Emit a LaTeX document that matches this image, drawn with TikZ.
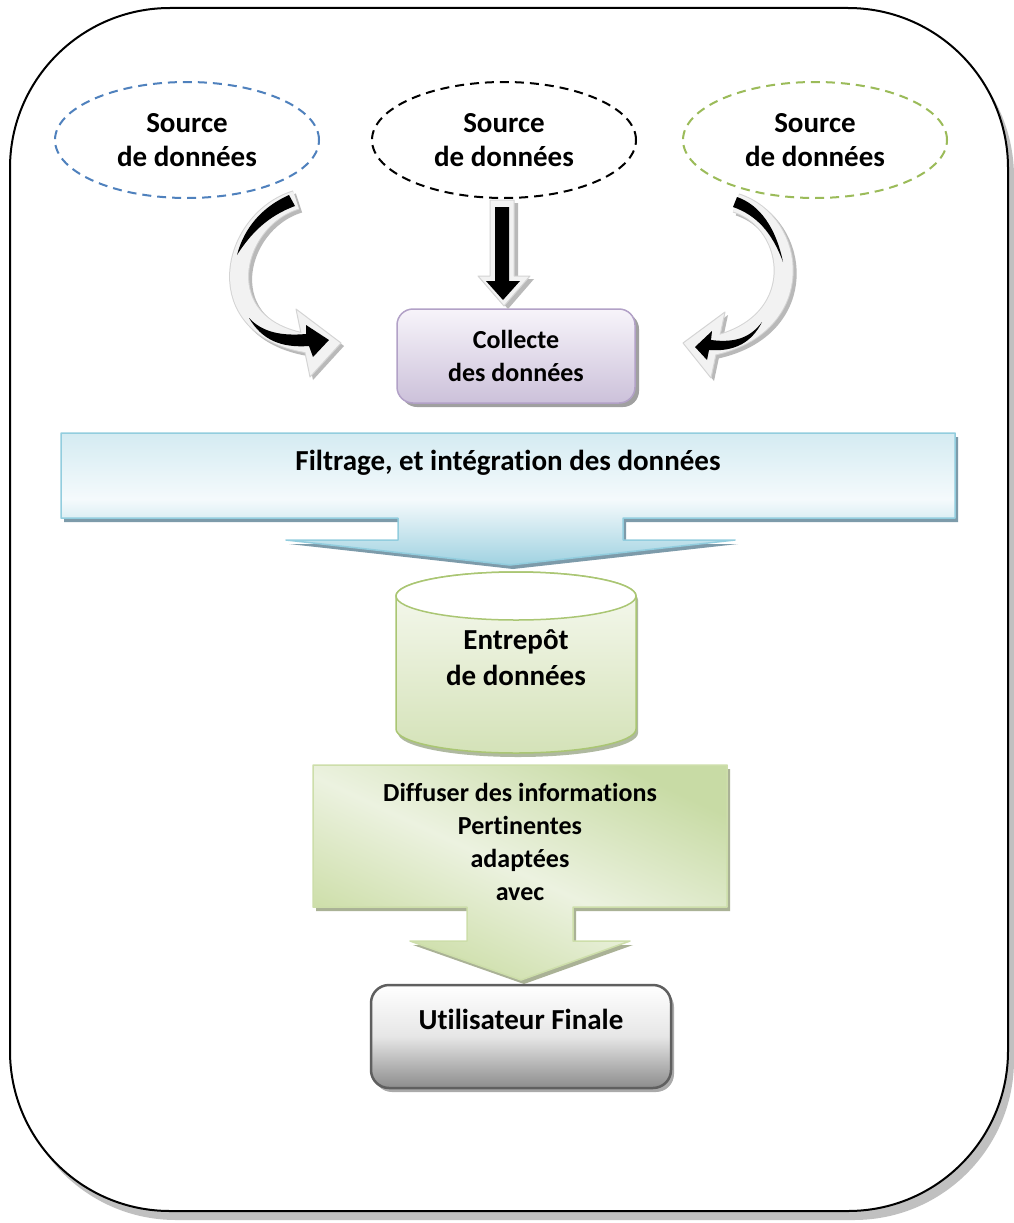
\documentclass[tikz,border=0pt]{standalone}
\usepackage{fontspec}
\setmainfont{Carlito}[Ligatures={NoCommon,NoRequired,NoContextual}, Contextuals={NoAlternate}]
\usetikzlibrary{shapes.geometric,shadows}

\definecolor{srcblue}{RGB}{79,129,189}
\definecolor{srcgreen}{RGB}{155,187,89}
\definecolor{bandfill}{RGB}{242,242,242}
\definecolor{bandedge}{RGB}{212,212,212}
\definecolor{bandshadow}{RGB}{185,185,185}
\definecolor{colTop}{RGB}{247,244,250}
\definecolor{colBot}{RGB}{204,193,218}
\definecolor{colEdge}{RGB}{178,161,199}
\definecolor{colShadow}{RGB}{160,160,160}
\definecolor{filTop}{RGB}{212,235,242}
\definecolor{filMid}{RGB}{245,250,252}
\definecolor{filBot}{RGB}{160,210,225}
\definecolor{filEdge}{RGB}{146,205,222}
\definecolor{filShadow}{RGB}{125,155,170}
\definecolor{cylTop}{RGB}{248,250,242}
\definecolor{cylBot}{RGB}{212,226,184}
\definecolor{cylEdge}{RGB}{170,198,115}
\definecolor{cylShadow}{RGB}{175,185,160}
\definecolor{difTop}{RGB}{200,219,165}
\definecolor{difMid}{RGB}{236,242,224}
\definecolor{difBot}{RGB}{200,219,160}
\definecolor{difEdge}{RGB}{205,222,170}
\definecolor{difShadow}{RGB}{170,178,150}
\definecolor{usrMid}{RGB}{230,230,230}
\definecolor{usrBot}{RGB}{140,140,140}
\definecolor{usrEdge}{RGB}{95,95,95}
\definecolor{usrShadow}{RGB}{170,170,170}
\definecolor{frameShadow}{RGB}{192,192,192}

\tikzset{
  lbl/.style={font=\fontsize{29}{34}\selectfont\bfseries, align=center, inner sep=0pt},
  lblsm/.style={font=\fontsize{26}{33}\selectfont\bfseries, align=center, inner sep=0pt},
  srcell/.style={ellipse, draw=#1, dash pattern=on 9pt off 6pt, line width=2pt,
    minimum width=264pt, minimum height=116pt, inner sep=0pt, lbl},
  band/.style={line width=20pt, bandedge},
  bandin/.style={line width=18pt, bandfill},
}

\begin{document}
\begin{tikzpicture}[x=1pt, y=-1pt, line join=round]
\useasboundingbox (0,0) rectangle (1014,1223);

% outer frame with its shadow
\fill[frameShadow, rounded corners=160pt] (16,17) rectangle (1014,1220);
\draw[black, line width=2pt, fill=white, rounded corners=160pt] (10,8) rectangle (1008,1211);

% data sources
\node[srcell=srcblue] (s1) at (187,140) {Source\\de données};
\node[srcell=black] (s2) at (504,140) {Source\\de données};
\node[srcell=srcgreen] (s3) at (815,140) {Source\\de données};

% collection box
\node[draw=colEdge, line width=1.5pt, rounded corners=16pt,
      minimum width=238pt, minimum height=94pt, inner sep=0pt,
      top color=colTop, bottom color=colBot,
      drop shadow={shadow xshift=4pt, shadow yshift=-4pt, fill=colShadow, opacity=1},
      lblsm] (col) at (516,356) {Collecte\\des données};

% ---- left curved arrow
\begin{scope}[shift={(3,3)}]
  \draw[line width=20pt, bandshadow] (296,200) .. controls (230,220) and (205,330) .. (312,344);
  \fill[bandshadow] (296,309) -- (341,343) -- (310,377) -- cycle;
\end{scope}
\draw[band] (296,200) .. controls (230,220) and (205,330) .. (312,344);
\filldraw[fill=bandfill, draw=bandedge, line width=1pt] (296,309) -- (341,343) -- (310,377) -- cycle;
\draw[bandin] (296,200) .. controls (230,220) and (205,330) .. (312,344);
\fill[black] (289,195) .. controls (262,207) and (244,228) .. (237,255)
  .. controls (251,233) and (268,216) .. (295,206) -- cycle;
\fill[black] (249,318) .. controls (263,333) and (283,336) .. (306,334) -- (306,325)
  -- (329,340) -- (313,357) -- (309,346) .. controls (281,348) and (262,340) .. (249,318) -- cycle;

% ---- middle straight arrow
\begin{scope}[shift={(4,3)}]
  \fill[bandshadow] (490,200) -- (514,200) -- (514,276) -- (530,276) -- (504,306) -- (478,276) -- (490,276) -- cycle;
\end{scope}
\filldraw[fill=bandfill, draw=bandedge, line width=1pt]
  (490,200) -- (514,200) -- (514,276) -- (530,276) -- (504,306) -- (478,276) -- (490,276) -- cycle;
\fill[black] (495,207) -- (509,207) -- (509,281) -- (520,281) -- (503,300) -- (486,281) -- (495,281) -- cycle;

% ---- right curved arrow
\begin{scope}[shift={(3,3)}]
  \draw[line width=20pt, bandshadow] (736,203) .. controls (797,222) and (810,325) .. (712,346);
  \fill[bandshadow] (725,312) -- (683,343) -- (711,378) -- cycle;
\end{scope}
\draw[band] (736,203) .. controls (797,222) and (810,325) .. (712,346);
\filldraw[fill=bandfill, draw=bandedge, line width=1pt] (725,312) -- (683,343) -- (711,378) -- cycle;
\draw[bandin] (736,203) .. controls (797,222) and (810,325) .. (712,346);
\fill[black] (737,197) .. controls (760,205) and (776,228) .. (783,262)
  .. controls (772,232) and (756,215) .. (733,207) -- cycle;
\fill[black] (762,322) .. controls (750,338) and (735,343) .. (711,340) -- (712,331)
  -- (695,347) -- (707,360) -- (709,350) .. controls (735,352) and (752,342) .. (762,322) -- cycle;

% ---- filtering / integration block arrow
\draw[draw=filEdge, line width=1.5pt, top color=filTop, bottom color=filBot, middle color=filMid,
      drop shadow={shadow xshift=3pt, shadow yshift=-4pt, fill=filShadow, opacity=1}]
  (61,433) -- (955,433) -- (955,518) -- (623,518) -- (623,540) -- (735,540) -- (510,565)
  -- (286,540) -- (398,540) -- (398,518) -- (61,518) -- cycle;
\node[lbl] (filt) at (508,463) {Filtrage, et intégration des données};

% ---- data warehouse cylinder
\draw[draw=cylEdge, line width=1.5pt, top color=cylTop, bottom color=cylBot,
      drop shadow={shadow xshift=2pt, shadow yshift=-4pt, fill=cylShadow, opacity=1}]
  (396,596) -- (396,729) .. controls (396,742.3) and (449.7,753) .. (516,753)
  .. controls (582.3,753) and (636,742.3) .. (636,729) -- (636,596)
  .. controls (636,582.7) and (582.3,572) .. (516,572)
  .. controls (449.7,572) and (396,582.7) .. (396,596) -- cycle;
\filldraw[fill=white, draw=cylEdge, line width=1.5pt] (516,596) ellipse [x radius=120, y radius=24];
\node[lbl, font=\fontsize{29}{36}\selectfont\bfseries] (ent) at (516,658) {Entrepôt\\de données};

% ---- dissemination block arrow
\draw[draw=difEdge, line width=1.5pt, top color=difTop, bottom color=difBot, middle color=difMid,
      shading angle=-25,
      drop shadow={shadow xshift=3pt, shadow yshift=-4pt, fill=difShadow, opacity=1}]
  (313,765) -- (727,765) -- (727,907) -- (573,907) -- (573,941) -- (630,941) -- (521,980)
  -- (410,941) -- (467,941) -- (467,907) -- (313,907) -- cycle;
\node[lblsm] (dif) at (520,842) {Diffuser des informations\\Pertinentes\\adaptées\\avec};

% ---- end user box
\node[draw=usrEdge, line width=2.5pt, rounded corners=18pt,
      minimum width=300pt, minimum height=103pt, inner sep=0pt,
      top color=white, bottom color=usrBot, middle color=usrMid,
      drop shadow={shadow xshift=3pt, shadow yshift=-4pt, fill=usrShadow, opacity=1}]
      (usr) at (521,1036.5) {};
\node[lbl] (usrtxt) at (521,1019) {Utilisateur Finale};

\end{tikzpicture}
\end{document}
